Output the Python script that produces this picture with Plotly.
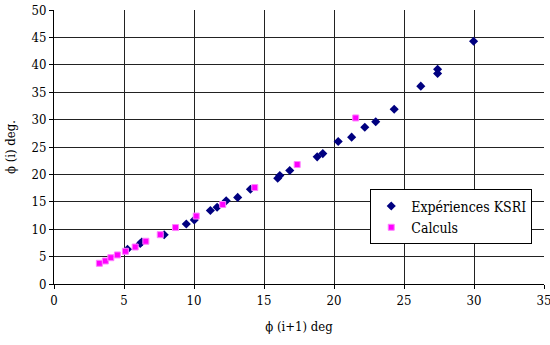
import plotly.graph_objects as go

# Expériences KSRI (diamonds)
exp_x = [5.25, 6.16, 6.27, 7.87, 9.45, 10.02, 11.17, 11.65, 12.3, 13.12, 14.03,
         15.98, 16.13, 16.84, 18.8, 19.2, 20.3, 21.26, 22.2, 22.98, 24.3,
         26.2, 27.4, 27.4, 29.97]
exp_y = [6.33, 7.4, 7.66, 9.0, 10.95, 11.7, 13.4, 14.0, 15.2, 15.8, 17.3,
         19.3, 19.8, 20.7, 23.2, 23.8, 26.0, 26.8, 28.6, 29.6, 31.9,
         36.1, 38.4, 39.2, 44.3]

# Calculs (squares)
calc_x = [3.24, 3.67, 4.06, 4.53, 5.1, 5.8, 6.56, 7.59, 8.68, 10.16, 12.05,
          14.34, 17.37, 21.55]
calc_y = [3.78, 4.2, 4.8, 5.3, 5.97, 6.75, 7.8, 9.0, 10.3, 12.4, 14.5,
          17.6, 21.8, 30.3]

x_ticks = [0, 5, 10, 15, 20, 25, 30, 35]
y_ticks = [0, 5, 10, 15, 20, 25, 30, 35, 40, 45, 50]

FONT = "DejaVu Serif Condensed, DejaVu Serif, serif"

fig = go.Figure()
fig.add_trace(go.Scatter(
    x=exp_x, y=exp_y, mode="markers", name="Expériences KSRI",
    marker=dict(symbol="diamond", size=7, color="#000080",
                line=dict(width=0))))
fig.add_trace(go.Scatter(
    x=calc_x, y=calc_y, mode="markers", name="Calculs",
    marker=dict(symbol="square", size=6, color="#FF00FF",
                line=dict(width=1, color="#FF80FF"))))

axis_common = dict(
    showgrid=True, gridcolor="#222222", gridwidth=1,
    showline=True, linecolor="black", linewidth=1,
    ticks="outside", ticklen=4, tickcolor="black",
    zeroline=False, automargin=False,
    ticklabeloverflow="allow",
    tickfont=dict(family=FONT, size=13, color="black"),
)

fig.update_layout(
    width=550, height=345,
    margin=dict(l=54, r=6, t=10, b=61),
    paper_bgcolor="white", plot_bgcolor="white",
    font=dict(family=FONT, size=12, color="black"),
    xaxis=dict(range=[0, 35], tickvals=x_ticks,
               title=dict(text="ϕ (i+1) deg", font=dict(family=FONT, size=13), standoff=15),
               **axis_common),
    yaxis=dict(range=[0, 50], tickvals=y_ticks,
               title=dict(text="ϕ (i) deg.", font=dict(family=FONT, size=13), standoff=12),
               **axis_common),
    legend=dict(x=0.976, y=0.345, xanchor="right", yanchor="top",
                bgcolor="white", bordercolor="black", borderwidth=1,
                font=dict(family=FONT, size=14), itemsizing="trace",
                itemwidth=30, tracegroupgap=4),
    showlegend=True,
)

fig.write_html("out.html", config={"displayModeBar": False},
               post_script="document.body.style.margin='0px';")
